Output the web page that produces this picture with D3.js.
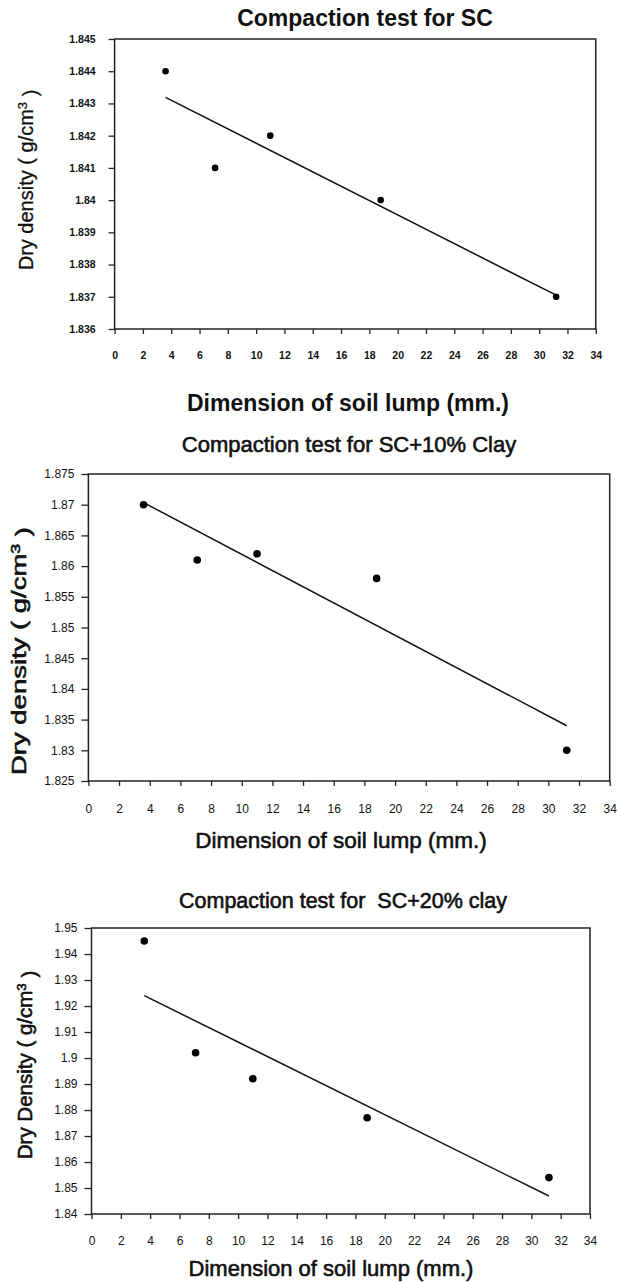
<!DOCTYPE html>
<html>
<head>
<meta charset="utf-8">
<script src="https://cdn.jsdelivr.net/npm/d3@7"></script>
<style>
  body { margin: 0; background: #fff; }
  text { font-family: "Liberation Sans", Arial, sans-serif; fill: #111; }
</style>
</head>
<body>
<svg class="charts"></svg>
<script>
// Total dimensions
var w = 621,
    h = 1282;

// Data (lump size in mm, dry density in g/cm3)
var lumpSize = [3.6, 7.1, 11, 18.8, 31.2];
var densitySC = [1.844, 1.841, 1.842, 1.840, 1.837];
var densitySC10 = [1.870, 1.861, 1.862, 1.858, 1.830];
var densitySC20 = [1.945, 1.902, 1.892, 1.877, 1.854];

// Tick values
var xTicks = [0, 2, 4, 6, 8, 10, 12, 14, 16, 18, 20, 22, 24, 26, 28, 30, 32, 34];
var yTicksSC = [1.836, 1.837, 1.838, 1.839, 1.84, 1.841, 1.842, 1.843, 1.844, 1.845];
var yTicksSC10 = [1.825, 1.83, 1.835, 1.84, 1.845, 1.85, 1.855, 1.86, 1.865, 1.87, 1.875];
var yTicksSC20 = [1.84, 1.85, 1.86, 1.87, 1.88, 1.89, 1.9, 1.91, 1.92, 1.93, 1.94, 1.95];

// Texts
var titles = ["Compaction test for SC", "Compaction test for SC+10% Clay", "Compaction test for \u00a0SC+20% clay"];
var yLabels = ["Dry density ( g/cm", "Dry density ( g/cm", "Dry Density ( g/cm"];
var xLabel = "Dimension of soil lump (mm.)";

var svg = d3.select(".charts")
    .attr("width", w)
    .attr("height", h);

// least squares trend line over the points
function trend(xs, ys) {
    var mx = d3.mean(xs), my = d3.mean(ys);
    var sxy = d3.sum(xs, function(x, i) { return (x - mx) * (ys[i] - my); });
    var sxx = d3.sum(xs, function(x) { return (x - mx) * (x - mx); });
    var b = sxy / sxx, a = my - b * mx;
    var x0 = d3.min(xs), x1 = d3.max(xs);
    return [[x0, a + b * x0], [x1, a + b * x1]];
}

// weight: "bold" or a stroke width that thickens regular glyphs a little
var charts = [
    { ys: densitySC, yTicks: yTicksSC, left: 114.6, right: 595.8, top: 39, bottom: 329,
      tickFont: 10.5, tickWeight: "bold", ySize: 6, yPad: 13, xPad: 18,
      title: { x: 365, y: 26, size: 23, weight: "bold" },
      ylab: { x: 26, y: 180, size: 20, len: 180, weight: 0.3 },
      xlab: { x: 348, y: 411, size: 23, weight: "bold" }, r: 3.3 },
    { ys: densitySC10, yTicks: yTicksSC10, left: 88.4, right: 609.7, top: 474, bottom: 781,
      tickFont: 12, tickWeight: "normal", ySize: 7, yPad: 7, xPad: 18,
      title: { x: 349, y: 452, size: 22, weight: 0.6 },
      ylab: { x: 19, y: 651, size: 21, len: 248, weight: 0.6 },
      xlab: { x: 341, y: 848, size: 22.5, weight: 0.6 }, r: 3.8 },
    { ys: densitySC20, yTicks: yTicksSC20, left: 91.5, right: 590, top: 928, bottom: 1214,
      tickFont: 12, tickWeight: "normal", ySize: 7, yPad: 7, xPad: 17,
      title: { x: 343, y: 908, size: 21.5, weight: 0.6 },
      ylab: { x: 25, y: 1065, size: 20.5, len: 189, weight: 0.6 },
      xlab: { x: 331, y: 1276, size: 22, weight: 0.6 }, r: 3.8 }
];

function weigh(sel, wt) {
    if (wt === "bold") {
	sel.attr("font-weight", "bold");
    } else {
	sel.attr("font-weight", "normal")
	    .attr("stroke", "#111")
	    .attr("stroke-width", wt)
	    .attr("stroke-linejoin", "round");
    }
    return sel;
}

charts.forEach(function(c, k) {
    var g = svg.append("g").attr("class", "chart" + k);

    var xScale = d3.scaleLinear()
	.domain([0, 34])
	.range([c.left, c.right]);

    var yScale = d3.scaleLinear()
	.domain([d3.min(c.yTicks), d3.max(c.yTicks)])
	.range([c.bottom, c.top]);

    // Axes
    var xAxis = d3.axisBottom(xScale)
	.tickValues(xTicks)
	.tickSizeInner(5)
	.tickSizeOuter(0)
	.tickPadding(c.xPad)
	.tickFormat(function(d) { return String(d); });

    var yAxis = d3.axisLeft(yScale)
	.tickValues(c.yTicks)
	.tickSizeInner(c.ySize)
	.tickSizeOuter(0)
	.tickPadding(c.yPad)
	.tickFormat(function(d) { return String(d); });

    var gx = g.append("g")
	.attr("class", "x axis")
	.attr("transform", "translate(0," + c.bottom + ")")
	.call(xAxis);

    var gy = g.append("g")
	.attr("class", "y axis")
	.attr("transform", "translate(" + c.left + ",0)")
	.call(yAxis);

    [gx, gy].forEach(function(a) {
	a.select(".domain").remove();
	a.selectAll("line").attr("stroke", "#222").attr("stroke-width", 1.3);
	a.selectAll("text")
	    .attr("font-family", "Liberation Sans, Arial, sans-serif")
	    .attr("font-size", c.tickFont)
	    .attr("font-weight", c.tickWeight)
	    .attr("fill", "#222");
    });

    // Frame
    g.append("rect")
	.attr("x", c.left)
	.attr("y", c.top)
	.attr("width", c.right - c.left)
	.attr("height", c.bottom - c.top)
	.attr("fill", "none")
	.attr("stroke", "#222")
	.attr("stroke-width", 1.5);

    // Trend line
    var line = d3.line()
	.x(function(d) { return xScale(d[0]); })
	.y(function(d) { return yScale(d[1]); });

    g.append("path")
	.datum(trend(lumpSize, c.ys))
	.attr("fill", "none")
	.attr("stroke", "#111")
	.attr("stroke-width", 1.5)
	.attr("d", line);

    // Points
    g.selectAll(".dot")
	.data(lumpSize)
	.enter().append("circle")
	.attr("class", "dot")
	.attr("cx", function(d) { return xScale(d); })
	.attr("cy", function(d, i) { return yScale(c.ys[i]); })
	.attr("r", c.r)
	.attr("fill", "#000");

    // Title
    weigh(g.append("text")
	.attr("x", c.title.x)
	.attr("y", c.title.y)
	.attr("text-anchor", "middle")
	.attr("font-size", c.title.size)
	.text(titles[k]), c.title.weight);

    // x label
    weigh(g.append("text")
	.attr("x", c.xlab.x)
	.attr("y", c.xlab.y)
	.attr("text-anchor", "middle")
	.attr("font-size", c.xlab.size)
	.text(xLabel), c.xlab.weight);

    // y label with superscript
    var yl = g.append("text")
	.attr("transform", "translate(" + c.ylab.x + "," + c.ylab.y + ") rotate(-90)")
	.attr("text-anchor", "middle")
	.attr("dy", "0.35em")
	.attr("font-size", c.ylab.size);
    weigh(yl, c.ylab.weight);
    yl.append("tspan").text(yLabels[k]);
    yl.append("tspan").attr("dy", "-0.5em").attr("font-size", c.ylab.size * 0.65).text("3");
    yl.append("tspan").attr("dy", "0.5em").text(" )");

    // stretch to the measured length
    var len = yl.node().getComputedTextLength();
    if (Math.abs(len - c.ylab.len) > 4) {
	yl.attr("textLength", c.ylab.len).attr("lengthAdjust", "spacingAndGlyphs");
    }
});
</script>
</body>
</html>
